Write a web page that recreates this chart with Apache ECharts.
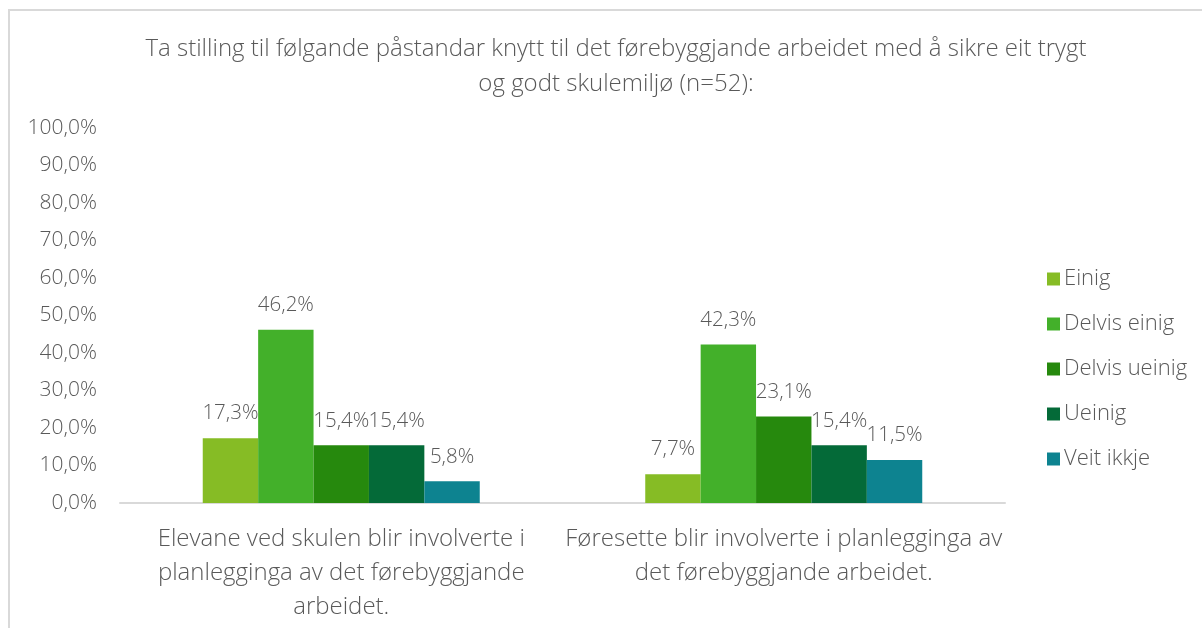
<!DOCTYPE html>
<html>
<head>
<meta charset="utf-8">
<script src="https://cdn.jsdelivr.net/npm/echarts@6/dist/echarts.min.js"></script>
<style>html,body{margin:0;padding:0;background:#fff;}#c{width:1202px;height:628px;}</style>
</head>
<body>
<div id="c"></div>
<script>
const titleText = 'Ta stilling til følgande påstandar knytt til det førebyggjande arbeidet med å sikre eit trygt\nog godt skulemiljø (n=52):';
const categories = [
  'Elevane ved skulen blir involverte i\nplanlegginga av det førebyggjande\narbeidet.',
  'Føresette blir involverte i planlegginga av\ndet førebyggjande arbeidet.'
];
const seriesNames = ['Einig', 'Delvis einig', 'Delvis ueinig', 'Ueinig', 'Veit ikkje'];
const einig = [17.3, 7.7];
const delvisEinig = [46.2, 42.3];
const delvisUeinig = [15.4, 23.1];
const ueinig = [15.4, 15.4];
const veitIkkje = [5.8, 11.5];
const seriesValues = [einig, delvisEinig, delvisUeinig, ueinig, veitIkkje];
const colors = ['#86BC25', '#43B02A', '#26890D', '#046A38', '#0D8390'];

const fmt = v => v.toFixed(1).replace('.', ',') + '%';
const FONT = 'Open Sans';
const FW = 300;
const TXT = '#595959';

const chart = echarts.init(document.getElementById('c'));
chart.setOption({
  animation: false,
  textStyle: { fontFamily: FONT },
  graphic: [{
    type: 'rect', silent: true,
    shape: { x: 9, y: 10, width: 1400, height: 800 },
    style: { fill: 'none', stroke: '#d9d9d9', lineWidth: 2 }
  }],
  title: {
    text: titleText,
    left: 611, top: 27, textAlign: 'center',
    textStyle: { fontFamily: FONT, fontSize: 24, fontWeight: FW, color: TXT, lineHeight: 35 }
  },
  legend: {
    orient: 'vertical', left: 1042, top: 262,
    itemWidth: 13, itemHeight: 13, itemGap: 21,
    icon: 'rect',
    textStyle: { fontFamily: FONT, fontSize: 22, fontWeight: FW, color: TXT, lineHeight: 24, padding: [0, 0, 0, -1] },
    data: seriesNames
  },
  grid: { left: 120, right: 197, top: 128, bottom: 125, containLabel: false },
  xAxis: {
    type: 'category', data: categories,
    axisLine: { lineStyle: { color: '#d9d9d9', width: 2 } },
    axisTick: { show: false },
    axisLabel: { fontFamily: FONT, fontSize: 24, fontWeight: FW, color: TXT, lineHeight: 34, margin: 19, interval: 0 }
  },
  yAxis: {
    type: 'value', min: 0, max: 100, interval: 10,
    axisLine: { show: false }, axisTick: { show: false },
    splitLine: { show: false },
    axisLabel: { fontFamily: FONT, fontSize: 21, fontWeight: FW, color: TXT, margin: 23, formatter: v => fmt(v) }
  },
  series: seriesNames.map((n, i) => ({
    name: n, type: 'bar', data: seriesValues[i],
    barGap: '0%', barCategoryGap: '37.4%',
    itemStyle: { color: colors[i] },
    label: { show: true, position: 'top', distance: 14, fontFamily: FONT, fontSize: 20.5, fontWeight: FW, color: TXT, formatter: p => fmt(p.value) }
  }))
});
</script>
</body>
</html>
